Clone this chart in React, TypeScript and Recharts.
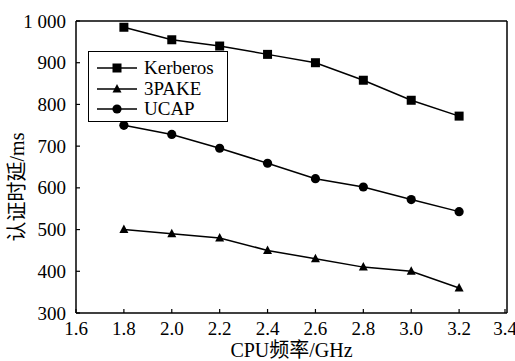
import { LineChart, Line, XAxis, YAxis, Legend, ReferenceLine } from 'recharts'

const cpuFreq = [1.8, 2.0, 2.2, 2.4, 2.6, 2.8, 3.0, 3.2]
const kerberosDelay = [985, 955, 940, 920, 900, 858, 810, 772]
const pake3Delay = [500, 490, 480, 450, 430, 410, 400, 360]
const ucapDelay = [750, 728, 695, 659, 622, 602, 572, 543]

const xTicks = [1.6, 1.8, 2.0, 2.2, 2.4, 2.6, 2.8, 3.0, 3.2, 3.4]
const yTicks = [300, 400, 500, 600, 700, 800, 900, 1000]

const data = cpuFreq.map((f, i) => ({
  freq: f,
  kerberos: kerberosDelay[i],
  pake3: pake3Delay[i],
  ucap: ucapDelay[i],
}))

const FONT = "'Liberation Serif', 'Times New Roman', 'Noto Sans CJK SC', serif"

const SquareDot = ({ cx, cy }: any) => (
  <rect x={cx - 4.5} y={cy - 4.5} width={9} height={9} fill="#000" />
)
const TriangleDot = ({ cx, cy }: any) => (
  <path d={`M${cx},${cy - 5} L${cx + 4.5},${cy + 3.5} L${cx - 4.5},${cy + 3.5} Z`} fill="#000" />
)
const CircleDot = ({ cx, cy }: any) => <circle cx={cx} cy={cy} r={4.6} fill="#000" />

const series = [
  { key: 'kerberos', name: 'Kerberos', Dot: SquareDot },
  { key: 'pake3', name: '3PAKE', Dot: TriangleDot },
  { key: 'ucap', name: 'UCAP', Dot: CircleDot },
]

const XTick = ({ x, y, payload }: any) => (
  <g>
    <line x1={x} x2={x} y1={y} y2={y - 4} stroke="#000" strokeWidth={1.2} />
    <text x={x} y={y + 15} textAnchor="middle" dominantBaseline="central" fontSize={19} fontFamily={FONT} fill="#000">
      {Number(payload.value).toFixed(1)}
    </text>
  </g>
)

const YTick = ({ x, y, payload }: any) => (
  <g>
    <line x1={x} x2={x + 4} y1={y} y2={y} stroke="#000" strokeWidth={1.2} />
    <text x={x - 10} y={y} textAnchor="end" dominantBaseline="central" fontSize={19} fontFamily={FONT} fill="#000">
      {payload.value >= 1000 ? '1 000' : payload.value}
    </text>
  </g>
)

const LegendBox = () => (
  <div
    style={{
      width: 140,
      height: 71,
      boxSizing: 'border-box',
      border: '1.5px solid #000',
      background: '#fff',
      padding: '6px 0 0 6px',
      fontFamily: FONT,
      fontSize: 19,
      color: '#000',
    }}
  >
    {series.map(({ key, name, Dot }) => (
      <div key={key} style={{ display: 'flex', alignItems: 'center', height: 20.5 }}>
        <svg width={44} height={20} style={{ marginRight: 5 }}>
          <line x1={2} x2={42} y1={10} y2={10} stroke="#000" strokeWidth={1.5} />
          <Dot cx={22} cy={10} />
        </svg>
        <span style={{ lineHeight: '20px' }}>{name}</span>
      </div>
    ))}
  </div>
)

export default function App() {
  return (
    <div style={{ position: 'absolute', left: 0, top: 0, background: '#fff' }}>
      <LineChart width={515} height={361} data={data} margin={{ top: 21, right: 8, bottom: 0, left: 0 }}>
        <XAxis
          type="number"
          dataKey="freq"
          domain={[1.6, 3.4]}
          ticks={xTicks}
          tickLine={false}
          tickSize={0}
          tickMargin={0}
          tick={XTick}
          height={48}
          axisLine={{ stroke: '#000', strokeWidth: 1.5 }}
          label={({ viewBox }: any) => (
            <text
              x={viewBox.x + viewBox.width / 2}
              y={viewBox.y + 37}
              textAnchor="middle"
              dominantBaseline="central"
              fontSize={20}
              fontFamily={FONT}
              fill="#000"
            >
              CPU频率/GHz
            </text>
          )}
        />
        <YAxis
          type="number"
          domain={[300, 1000]}
          ticks={yTicks}
          tickLine={false}
          tickSize={0}
          tickMargin={0}
          tick={YTick}
          width={76}
          axisLine={{ stroke: '#000', strokeWidth: 1.5 }}
          label={({ viewBox }: any) => {
            const cx = viewBox.x + 17
            const cy = viewBox.y + viewBox.height / 2 + 20
            return (
              <text
                x={cx}
                y={cy}
                transform={`rotate(-90 ${cx} ${cy})`}
                textAnchor="middle"
                dominantBaseline="central"
                fontSize={20}
                fontFamily={FONT}
                fill="#000"
              >
                认证时延/ms
              </text>
            )
          }}
        />
        <ReferenceLine y={1000} stroke="#000" strokeWidth={1.5} />
        <ReferenceLine x={3.4} stroke="#000" strokeWidth={1.5} />
        {series.map(({ key, name, Dot }) => (
          <Line
            key={key}
            type="linear"
            dataKey={key}
            name={name}
            stroke="#000"
            strokeWidth={1.5}
            dot={(p: any) => <Dot key={`${key}-${p.index}`} cx={p.cx} cy={p.cy} />}
            activeDot={false}
            isAnimationActive={false}
          />
        ))}
        <Legend
          layout="horizontal"
          verticalAlign="middle"
          align="center"
          wrapperStyle={{ left: 88, top: 51, width: 140, height: 71 }}
          content={LegendBox}
        />
      </LineChart>
    </div>
  )
}
